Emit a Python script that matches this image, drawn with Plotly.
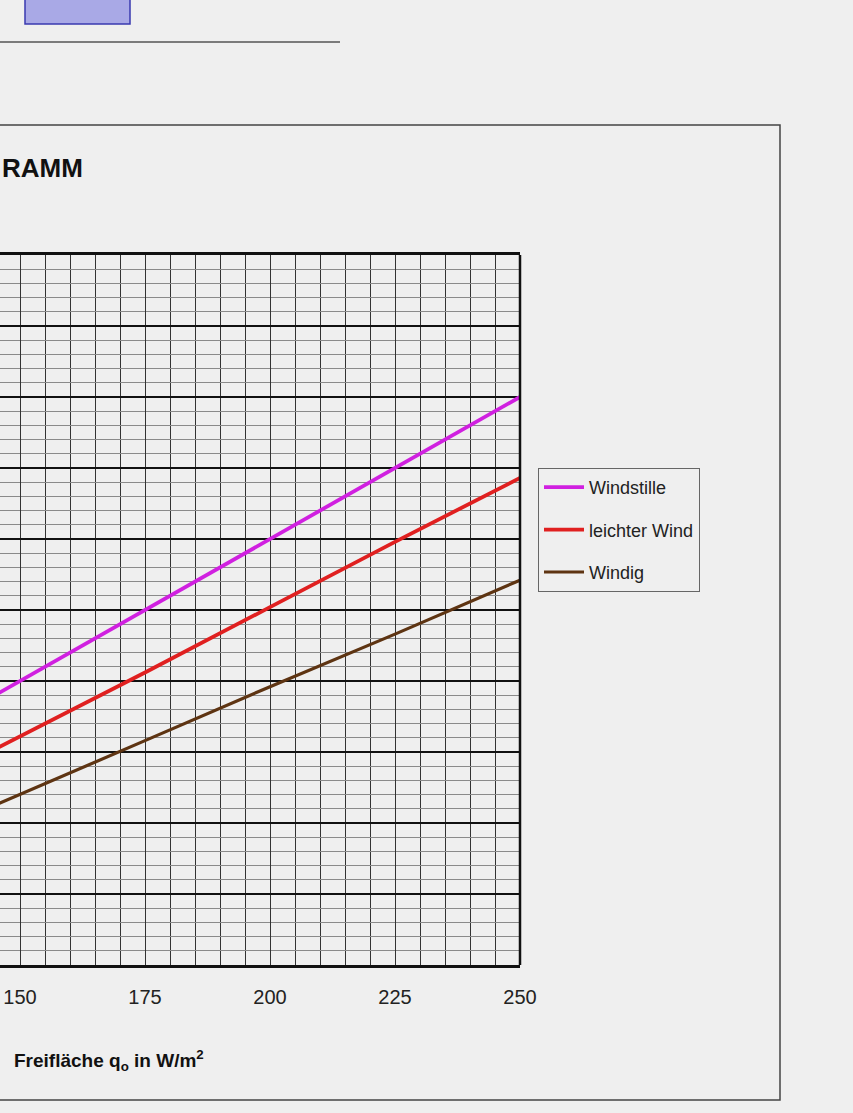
import plotly.graph_objects as go

# Data (x in W/m², y in diagram units; y-axis labels are cropped off)
x_vals = [140, 150, 175, 200, 225, 250]
windstille = [18.0, 20.0, 25.0, 30.0, 35.0, 40.0]
leichter_wind = [14.3, 16.1, 20.6, 25.2, 29.8, 34.3]
windig = [10.5, 12.0, 15.8, 19.6, 23.3, 27.1]
series_names = ["Windstille", "leichter Wind", "Windig"]
series_colors = ["#d020e0", "#e02020", "#5e3412"]
x_ticks = [150, 175, 200, 225, 250]

W, H = 853, 1113
L, R, T, B = 0, 333, 255, 148
PW, PH = W - L - R, H - T - B

def px(xp):
    return (xp - L) / PW

def py(yp):
    return (H - B - yp) / PH

font_main = "Liberation Sans, Arial, sans-serif"
bg = "#efefef"

fig = go.Figure()
for name, ys, col, w in zip(series_names, [windstille, leichter_wind, windig], series_colors, [3.8, 3.8, 3.2]):
    fig.add_trace(go.Scatter(x=x_vals, y=ys, mode="lines", name=name, legendgroup=name,
                             line=dict(color=col, width=w)))

fig.update_layout(
    width=W, height=H,
    margin=dict(l=L, r=R, t=T, b=B),
    paper_bgcolor=bg, plot_bgcolor=bg,
    font=dict(family=font_main, color="#222"),
    showlegend=True,
    legend=dict(x=px(538), y=py(468), xanchor="left", yanchor="top",
                bgcolor=bg, bordercolor="#666", borderwidth=1,
                font=dict(size=18, color="#222", family=font_main),
                tracegroupgap=16, itemwidth=40),
    xaxis=dict(range=[146, 250], tickvals=x_ticks, ticks="", showgrid=True,
               gridcolor="#333", gridwidth=1, zeroline=False,
               minor=dict(dtick=5, tick0=0, showgrid=True, gridcolor="#333", gridwidth=1),
               showline=True, linecolor="#111", linewidth=2.5, mirror=True,
               tickfont=dict(size=20, color="#222", family=font_main),
               ticklabelstandoff=12),
    yaxis=dict(range=[0, 50], dtick=5, tick0=0, showgrid=True, gridcolor="#111",
               gridwidth=2.2, zeroline=False, showticklabels=False, ticks="",
               minor=dict(dtick=1, tick0=0, showgrid=True, gridcolor="#8a8a8a", gridwidth=1),
               showline=False),
)

shapes = [
    # right border of plot area
    dict(type="line", xref="paper", yref="paper", x0=1, x1=1, y0=0, y1=1,
         line=dict(color="#111", width=2.5)),
    # chart area frame (left side cropped)
    dict(type="rect", xref="paper", yref="paper", x0=px(-20), x1=px(780),
         y0=py(1100), y1=py(125), line=dict(color="#444", width=1.5), layer="below"),
    # frame line of the object above
    dict(type="line", xref="paper", yref="paper", x0=px(0), x1=px(340),
         y0=py(42), y1=py(42), line=dict(color="#555", width=1.5)),
    # bluish object cropped at the top
    dict(type="rect", xref="paper", yref="paper", x0=px(25), x1=px(130),
         y0=py(24), y1=py(-5), line=dict(color="#3a3ab0", width=1.5),
         fillcolor="#a9a9e6"),
]
fig.update_layout(shapes=shapes)

fig.add_annotation(text="<b>RAMM</b>", xref="paper", yref="paper",
                   x=px(0), y=py(168), xanchor="left", yanchor="middle",
                   showarrow=False, font=dict(size=26, color="#111", family=font_main))
fig.add_annotation(text="<b>Freifläche q<sub>o</sub> in W/m<sup>2</sup></b>",
                   xref="paper", yref="paper", x=px(12), y=py(1060),
                   xanchor="left", yanchor="middle", showarrow=False,
                   font=dict(size=19, color="#111", family=font_main))

fig.write_html("out.html", config={"displayModeBar": False},
               post_script="document.body.style.margin='0';document.body.style.overflow='hidden';")
